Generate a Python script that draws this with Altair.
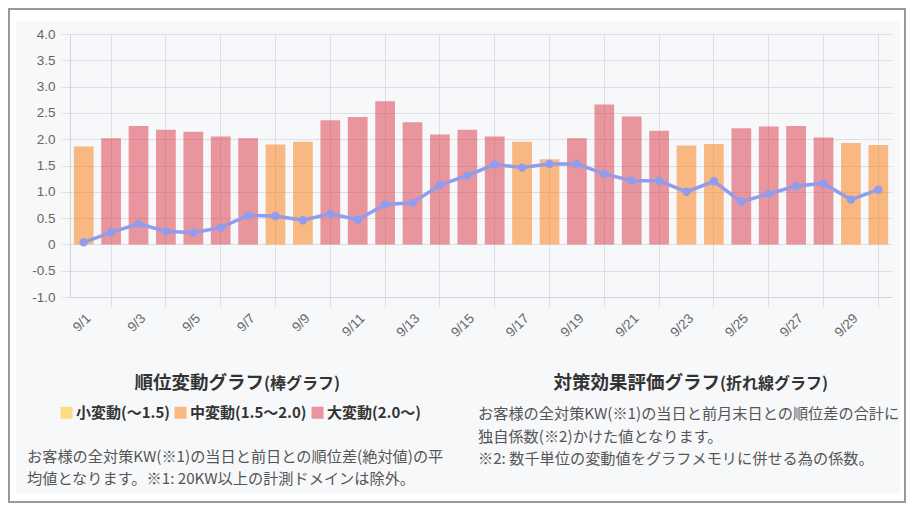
import altair as alt
import pandas as pd

# ---- data ----
days = ["9/1", "9/2", "9/3", "9/4", "9/5", "9/6", "9/7", "9/8", "9/9", "9/10",
        "9/11", "9/12", "9/13", "9/14", "9/15", "9/16", "9/17", "9/18", "9/19", "9/20",
        "9/21", "9/22", "9/23", "9/24", "9/25", "9/26", "9/27", "9/28", "9/29", "9/30"]
rank_change = [1.86, 2.02, 2.25, 2.18, 2.14, 2.05, 2.02, 1.90, 1.95, 2.36,
               2.42, 2.72, 2.32, 2.09, 2.18, 2.05, 1.95, 1.62, 2.02, 2.66,
               2.43, 2.16, 1.88, 1.91, 2.21, 2.24, 2.25, 2.03, 1.93, 1.89]
effect = [0.04, 0.23, 0.39, 0.25, 0.22, 0.32, 0.55, 0.54, 0.46, 0.58,
          0.47, 0.76, 0.79, 1.13, 1.31, 1.52, 1.46, 1.53, 1.53, 1.34,
          1.21, 1.21, 1.00, 1.20, 0.81, 0.96, 1.11, 1.16, 0.85, 1.04]
categories = ["小変動(～1.5)", "中変動(1.5～2.0)", "大変動(2.0～)"]
y_ticks = [-1.0, -0.5, 0.0, 0.5, 1.0, 1.5, 2.0, 2.5, 3.0, 3.5, 4.0]

left_title = ["順位変動グラフ", "(棒グラフ)"]
right_title = ["対策効果評価グラフ", "(折れ線グラフ)"]
left_text = ["お客様の全対策KW(※1)の当日と前日との順位差(絶対値)の平",
             "均値となります。※1: 20KW以上の計測ドメインは除外。"]
right_text = ["お客様の全対策KW(※1)の当日と前月末日との順位差の合計に",
              "独自係数(※2)かけた値となります。",
              "※2: 数千単位の変動値をグラフメモリに併せる為の係数。"]


def category(v):
    if v < 1.5:
        return categories[0]
    if v < 2.0:
        return categories[1]
    return categories[2]


df = pd.DataFrame({
    "day": days,
    "rank": rank_change,
    "effect": effect,
    "cat": [category(v) for v in rank_change],
})

odd_days = days[0::2]
even_days = days[1::2]

# ---- style ----
PANEL = "#f7f8fa"
GRID = "#dedfe2"
AXIS_FONT = "Liberation Sans"
CJK = "Noto Sans CJK JP"
LINE_COLOR = "#929cec"
bar_colors = ["#ffc00a", "#fb780a", "#db3242"]

W, H = 822, 263
PAD_L, PAD_T, PAD_R, PAD_B = 62, 26, 14, 206
CW, CH = W + PAD_L + PAD_R, H + PAD_T + PAD_B

y_axis = alt.Axis(
    values=y_ticks,
    labelExpr="datum.value == 0 ? '0' : replace(format(datum.value, '.1f'), '\u2212', '-')",
    grid=True, gridColor=GRID, tickColor=GRID, tickSize=9, labelPadding=6,
    domainColor="#d3d4d7", labelColor="#666666", labelFontSize=13.5,
    labelFont=AXIS_FONT, title=None,
)
y_scale = alt.Scale(domain=[-1, 4], nice=False, zero=True)
x_scale = alt.Scale(paddingInner=0.28, paddingOuter=0.14)

bars = alt.Chart(df).mark_bar(opacity=0.5).encode(
    x=alt.X("day:N", sort=days, scale=x_scale,
            axis=alt.Axis(values=odd_days, labelAngle=-45, grid=False, ticks=False,
                          domain=True, domainColor="#d3d4d7", labelColor="#666666",
                          labelFontSize=13.5, labelFont=AXIS_FONT, labelPadding=14,
                          orient="bottom", title=None, bandPosition=0.5)),
    y=alt.Y("rank:Q", scale=y_scale, axis=y_axis),
    color=alt.Color("cat:N", scale=alt.Scale(domain=categories, range=bar_colors),
                    legend=alt.Legend(orient="none", legendX=-11, legendY=371,
                                      direction="horizontal", title=None,
                                      symbolType="square", symbolSize=144,
                                      symbolStrokeWidth=0, symbolOpacity=0.5,
                                      labelFontSize=15, labelFontWeight="bold",
                                      labelColor="#333333", labelFont=CJK,
                                      columnPadding=3, labelOffset=2)),
)

line = alt.Chart(df).mark_line(
    color=LINE_COLOR, strokeWidth=3.5,
    point=alt.OverlayMarkDef(color=LINE_COLOR, size=70, filled=True, opacity=1),
).encode(
    x=alt.X("day:N", sort=days,
            axis=alt.Axis(values=even_days, labels=False, grid=True, gridColor=GRID,
                          ticks=True, tickSize=10, tickColor=GRID, domain=False,
                          orient="bottom", title=None, bandPosition=0.5)),
    y=alt.Y("effect:Q", scale=y_scale, axis=y_axis),
)

one = alt.Data(values=[{}])


def rect(x, x2, y, y2):
    return alt.Chart(one).mark_rect(fill="white", strokeWidth=0).encode(
        x=alt.value(x), x2=alt.value(x2), y=alt.value(y), y2=alt.value(y2))


# panel frame (page white margin + grey border); chart background is the panel colour
frame = [
    rect(-60, CW - PAD_L - 2, -24, -13),
    rect(-60, CW - PAD_L - 2, 460, CH - PAD_T - 2),
    rect(-60, -54, -13, 460),
    rect(830, CW - PAD_L - 2, -13, 460),
    alt.Chart(one).mark_rect(fillOpacity=0, stroke="#9a9a9a", strokeWidth=2).encode(
        x=alt.value(-61), x2=alt.value(CW - PAD_L - 1),
        y=alt.value(-25), y2=alt.value(CH - PAD_T - 1)),
]


def txt(text, x, y, size, weight="normal", color="#333333", align="left",
        baseline="alphabetic", lh=None):
    kw = dict(text=text, align=align, baseline=baseline, fontSize=size,
              fontWeight=weight, color=color, font=CJK)
    if lh:
        kw["lineHeight"] = lh
    return alt.Chart(one).mark_text(**kw).encode(x=alt.value(x), y=alt.value(y))


texts = [
    txt(left_title[0], 194, 355, 18.5, "bold", "#333333", "right"),
    txt(left_title[1], 194, 355, 16, "bold", "#333333", "left"),
    txt(right_title[0], 650, 355, 18.5, "bold", "#333333", "right"),
    txt(right_title[1], 650, 355, 16, "bold", "#333333", "left"),
    txt(left_text, -43, 428, 15.2, "normal", "#555555", "left", lh=22),
    txt(right_text, 408, 385, 15.2, "normal", "#555555", "left", lh=22.5),
]

chart = alt.layer(*frame, bars, line, *texts).resolve_axis(
    x="independent"
).properties(
    width=W, height=H,
    autosize=alt.AutoSizeParams(type="none"),
    padding={"left": PAD_L, "top": PAD_T, "right": PAD_R, "bottom": PAD_B},
    background=PANEL,
).configure_view(stroke=None)

chart.save("out.html", embed_options={"renderer": "svg", "actions": False})
